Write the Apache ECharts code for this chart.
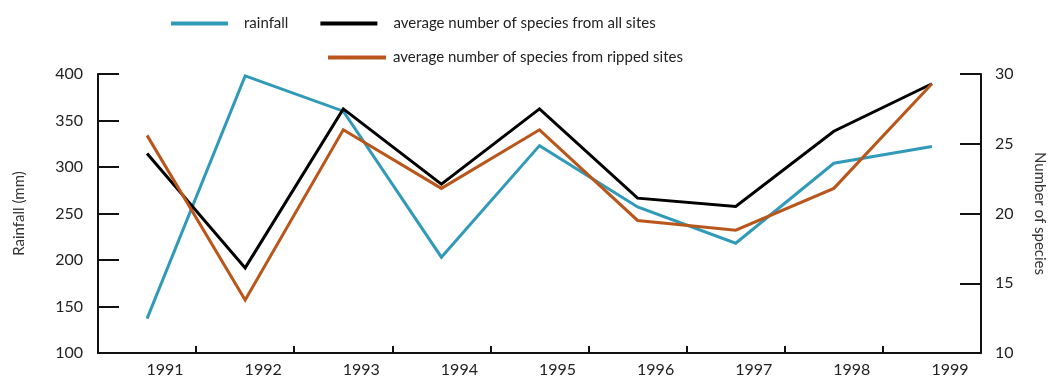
<!DOCTYPE html>
<html>
<head>
<meta charset="utf-8">
<script src="https://cdn.jsdelivr.net/npm/echarts@6/dist/echarts.min.js"></script>
<style>
  html, body { margin: 0; padding: 0; background: #fff; }
  #chart { width: 1050px; height: 378px; }
</style>
</head>
<body>
<div id="chart"></div>
<script>
// Yearly survey data
const years = ['1991', '1992', '1993', '1994', '1995', '1996', '1997', '1998', '1999'];
const rainfall = [137, 398, 360, 203, 323, 257, 218, 304, 322];
const speciesAllSites = [24.3, 16.1, 27.5, 22.1, 27.5, 21.1, 20.5, 25.9, 29.3];
const speciesRippedSites = [25.6, 13.8, 26.0, 21.8, 26.0, 19.5, 18.8, 21.8, 29.3];

const FONT = 'Lato, "Open Sans", sans-serif';
const INK = '#111';
const BLUE = '#319ab9';
const ORANGE = '#b9561b';

const chart = echarts.init(document.getElementById('chart'));

const axisLine = { show: true, lineStyle: { color: INK, width: 2 } };

chart.setOption({
  animation: false,
  textStyle: { fontFamily: FONT },
  grid: { left: 98, right: 69, top: 74, bottom: 25, containLabel: false, outerBoundsMode: 'none' },
  legend: [
    {
      data: ['rainfall', 'average number of species from all sites'],
      left: 166, top: 11,
      icon: 'rect', itemWidth: 57, itemHeight: 4, itemGap: 32,
      textStyle: { fontFamily: FONT, fontSize: 15, color: '#222', padding: [0, 0, 0, 11] }
    },
    {
      data: ['average number of species from ripped sites'],
      left: 323, top: 45,
      icon: 'rect', itemWidth: 58, itemHeight: 4,
      textStyle: { fontFamily: FONT, fontSize: 15, color: '#222', padding: [0, 0, 0, 2] }
    }
  ],
  xAxis: {
    type: 'category',
    data: years,
    boundaryGap: true,
    axisLine: axisLine,
    axisTick: { show: true, inside: true, length: 7, lineStyle: { color: INK, width: 2 } },
    axisLabel: { color: '#222', fontSize: 16, fontFamily: FONT, margin: 9, padding: [0, 0, 0, 36] },
    splitLine: { show: false }
  },
  yAxis: [
    {
      type: 'value', min: 100, max: 400, interval: 50,
      name: 'Rainfall (mm)', nameLocation: 'middle', nameGap: 71, nameRotate: 90,
      nameTextStyle: { color: '#333', fontSize: 15, fontFamily: FONT },
      axisLine: axisLine,
      axisTick: { show: true, inside: true, length: 21, lineStyle: { color: INK, width: 2 } },
      axisLabel: { color: '#222', fontSize: 16, fontFamily: FONT, margin: 15 },
      splitLine: { show: false }
    },
    {
      type: 'value', min: 10, max: 30, interval: 5, position: 'right',
      name: 'Number of species', nameLocation: 'middle', nameGap: 51, nameRotate: -90,
      nameTextStyle: { color: '#333', fontSize: 15, fontFamily: FONT },
      axisLine: axisLine,
      axisTick: { show: true, inside: true, length: 21, lineStyle: { color: INK, width: 2 } },
      axisLabel: { color: '#222', fontSize: 16, fontFamily: FONT, margin: 14 },
      splitLine: { show: false }
    }
  ],
  series: [
    {
      name: 'rainfall', type: 'line', yAxisIndex: 0, data: rainfall,
      showSymbol: false, symbol: 'none',
      lineStyle: { color: BLUE, width: 3, join: 'miter' }, itemStyle: { color: BLUE }
    },
    {
      name: 'average number of species from all sites', type: 'line', yAxisIndex: 1, data: speciesAllSites,
      showSymbol: false, symbol: 'none',
      lineStyle: { color: '#000', width: 3, join: 'miter' }, itemStyle: { color: '#000' }
    },
    {
      name: 'average number of species from ripped sites', type: 'line', yAxisIndex: 1, data: speciesRippedSites,
      showSymbol: false, symbol: 'none',
      lineStyle: { color: ORANGE, width: 3, join: 'miter' }, itemStyle: { color: ORANGE }
    }
  ]
});
</script>
</body>
</html>
